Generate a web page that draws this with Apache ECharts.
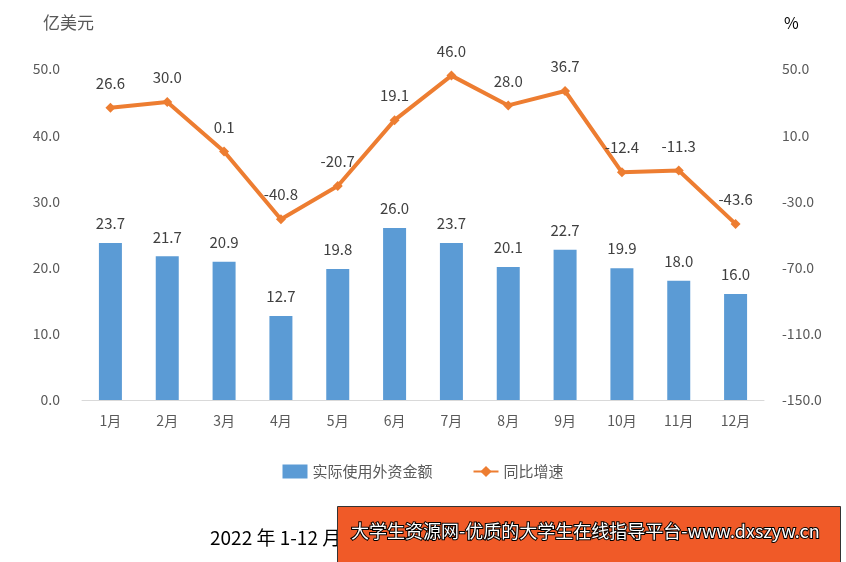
<!DOCTYPE html>
<html>
<head>
<meta charset="utf-8">
<script src="https://cdn.jsdelivr.net/npm/echarts@6/dist/echarts.min.js"></script>
<style>html,body{margin:0;padding:0;background:#fff}#chart{width:846px;height:562px}</style>
</head>
<body>
<div id="chart"></div>
<script>
var months = ['1月','2月','3月','4月','5月','6月','7月','8月','9月','10月','11月','12月'];
var amount = [23.7, 21.7, 20.9, 12.7, 19.8, 26.0, 23.7, 20.1, 22.7, 19.9, 18.0, 16.0];
var growth = [26.6, 30.0, 0.1, -40.8, -20.7, 19.1, 46.0, 28.0, 36.7, -12.4, -11.3, -43.6];

var myChart = echarts.init(document.getElementById('chart'));
var font = '"Noto Sans CJK SC", sans-serif';
var option = {
    animation: false,
    textStyle: {fontFamily: font},
    grid: {left: 82, right: 82, top: 69, bottom: 162},
    legend: {
        bottom: 78, itemGap: 40,
        textStyle: {color: '#595959', fontSize: 15},
        data: [
            {name: '实际使用外资金额', icon: 'rect', itemWidth: 40, itemHeight: 10},
            {name: '同比增速'}
        ]
    },
    xAxis: {
        type: 'category', data: months,
        axisTick: {show: false},
        axisLine: {lineStyle: {color: '#d9d9d9'}},
        axisLabel: {color: '#595959', fontSize: 14, margin: 14}
    },
    yAxis: [{
        type: 'value', min: 0, max: 50, interval: 10,
        name: '亿美元', nameGap: 38,
        nameTextStyle: {color: '#595959', fontSize: 17, align: 'right', padding: [0, -12, 0, 0]},
        axisLabel: {color: '#595959', fontSize: 14, margin: 22, formatter: function (v) { return v.toFixed(1); }},
        splitLine: {show: false}
    }, {
        type: 'value', min: -150, max: 50, interval: 40,
        name: '%', nameGap: 38,
        nameTextStyle: {color: '#000', fontSize: 16, align: 'left', padding: [0, 0, 0, 20]},
        axisLabel: {color: '#595959', fontSize: 14, margin: 18, formatter: function (v) { return v.toFixed(1); }},
        splitLine: {show: false}
    }],
    series: [{
        name: '实际使用外资金额', type: 'bar', barWidth: 23,
        itemStyle: {color: '#5b9bd5'},
        label: {show: true, position: 'top', distance: 12, color: '#404040', fontSize: 15,
            formatter: function (p) { return p.value.toFixed(1); }},
        data: amount
    }, {
        name: '同比增速', type: 'line', yAxisIndex: 1,
        symbol: 'diamond', symbolSize: 10,
        lineStyle: {color: '#ed7d31', width: 4},
        itemStyle: {color: '#ed7d31'},
        label: {show: true, position: 'top', distance: 12, color: '#404040', fontSize: 15,
            formatter: function (p) { return p.value.toFixed(1); }},
        data: growth
    }],
    graphic: [{
        type: 'text', left: 210, top: 528,
        style: {text: '2022 年 1-12 月实际使用外资金额及增速', fill: '#000', font: '19px ' + font}
    }, {
        type: 'rect', left: 337, top: 506,
        shape: {width: 503, height: 56},
        style: {fill: '#f05a28', stroke: '#333', lineWidth: 1}
    }, {
        type: 'text', left: 350, top: 521,
        style: {text: '大学生资源网-优质的大学生在线指导平台-www.dxszyw.cn', fill: '#fff', font: '18px ' + font,
            stroke: '#000', lineWidth: 2}
    }]
};
myChart.setOption(option);
window.addEventListener('resize', function () { myChart.resize(); });
</script>
</body>
</html>
